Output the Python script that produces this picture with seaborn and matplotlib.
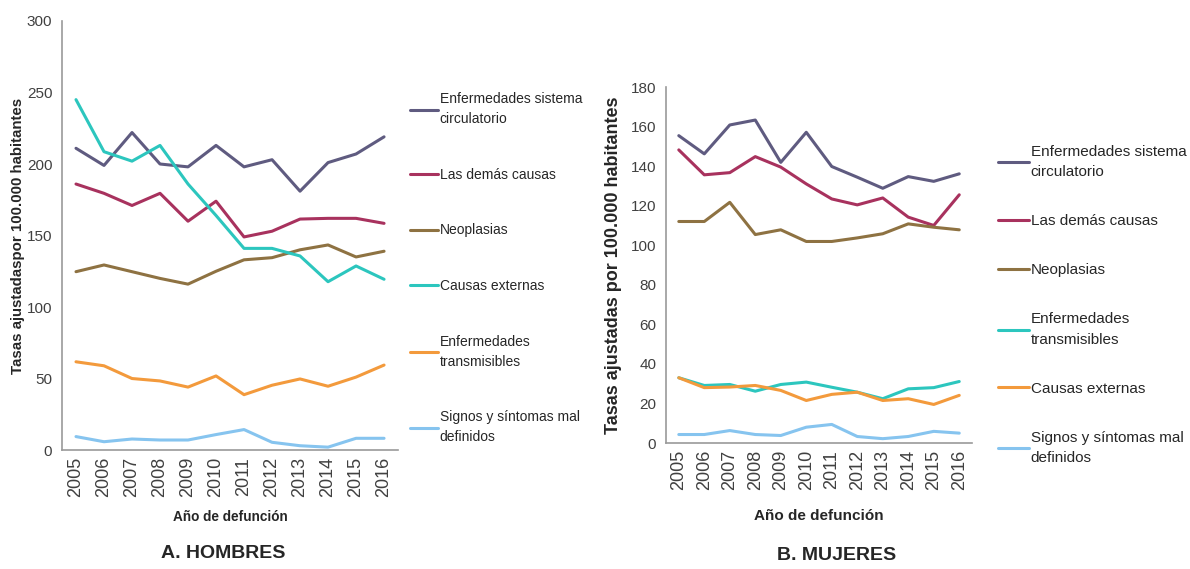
import pandas as pd
import matplotlib
matplotlib.use('Agg')
import matplotlib.pyplot as plt
from matplotlib.ticker import FixedLocator
import seaborn as sns

sns.set_style('white')
plt.rcParams['font.family'] = ['Liberation Sans Narrow', 'Liberation Sans', 'DejaVu Sans']

years = list(range(2005, 2017))

# HOMBRES
h_labels = ['Enfermedades sistema\ncirculatorio', 'Las demás causas', 'Neoplasias',
            'Causas externas', 'Enfermedades\ntransmisibles',
            'Signos y síntomas mal\ndefinidos']
h_circ = [211, 199, 222, 200, 198, 213, 198, 203, 181, 201, 207, 219]
h_demas = [186, 179.5, 171, 179.5, 160, 174, 149, 153, 161.5, 162, 162, 158.5]
h_neo = [124.7, 129.4, 124.7, 120, 116, 125, 133, 134.5, 140, 143.4, 135, 139]
h_ext = [245, 208.6, 202, 213, 186, 164, 141, 141, 135.7, 117.7, 128.7, 119.4]
h_trans = [61.7, 58.9, 50, 48.3, 44, 51.8, 38.7, 45.3, 49.7, 44.6, 51, 59.4]
h_signos = [9.4, 5.8, 7.7, 7, 7, 10.8, 14.3, 5.4, 3, 2, 8.2, 8.2]

# MUJERES
m_labels = ['Enfermedades sistema\ncirculatorio', 'Las demás causas', 'Neoplasias',
            'Enfermedades\ntransmisibles', 'Causas externas',
            'Signos y síntomas mal\ndefinidos']
m_circ = [155.4, 146.2, 160.8, 163.3, 141.9, 157.1, 139.8, 134.4, 128.8, 134.7, 132.3, 136.1]
m_demas = [148.2, 135.6, 136.7, 144.8, 139.5, 131, 123.4, 120.4, 123.9, 114.2, 110, 125.5]
m_neo = [112, 112, 121.7, 105.4, 107.8, 101.9, 101.9, 103.7, 105.8, 110.8, 109.1, 107.8]
m_trans = [33, 29.1, 29.6, 26.2, 29.6, 30.8, 28.2, 25.7, 22.4, 27.4, 28, 31.1]
m_ext = [33, 28, 28.3, 29.1, 26.6, 21.5, 24.6, 25.7, 21.5, 22.4, 19.5, 24.1]
m_signos = [4.3, 4.3, 6.3, 4.3, 3.8, 8, 9.4, 3.3, 2.2, 3.3, 5.9, 5]

colors = ['#5f5b80', '#a8325e', '#8e7242', '#2cc6be', '#f39a3c', '#86c4ef']


def long_df(labels, series):
    rows = []
    for lab, vals in zip(labels, series):
        for y, v in zip(years, vals):
            rows.append({'anio': y, 'tasa': v, 'causa': lab})
    return pd.DataFrame(rows)


hombres = long_df(h_labels, [h_circ, h_demas, h_neo, h_ext, h_trans, h_signos])
mujeres = long_df(m_labels, [m_circ, m_demas, m_neo, m_trans, m_ext, m_signos])

fig = plt.figure(figsize=(11.9, 5.69), dpi=100)
ax1 = fig.add_axes([0.0521, 0.2091, 0.2824, 0.754])
ax2 = fig.add_axes([0.5597, 0.2214, 0.2571, 0.6257])


def draw(ax, df, labels, ymax, ystep, ylabel, ylab_x, xlab_y, ylab_size, xlab_size,
         leg_anchor, leg_size, leg_space):
    sns.lineplot(data=df, x='anio', y='tasa', hue='causa', hue_order=labels,
                 palette=colors, estimator=None, linewidth=2.2, legend=False, ax=ax)
    ax.set_xlim(2004.5, 2016.5)
    ax.set_ylim(0, ymax)
    ax.set_yticks(range(0, ymax + 1, ystep))
    ax.set_xticks(years)
    ax.set_xticklabels([str(y) for y in years], rotation=90)
    ax.xaxis.set_minor_locator(FixedLocator([y + 0.5 for y in years]))
    ax.tick_params(axis='x', which='major', length=0, pad=5, labelsize=13, labelcolor='#404040')
    ax.tick_params(axis='x', which='minor', length=5, color='#9a9a9a', direction='out')
    ax.tick_params(axis='y', length=4, color='#9a9a9a', direction='out', labelsize=11,
                   labelcolor='#404040', pad=3)
    for s in ['top', 'right']:
        ax.spines[s].set_visible(False)
    for s in ['left', 'bottom']:
        ax.spines[s].set_color('#9a9a9a')
        ax.spines[s].set_linewidth(1.2)
    ax.set_xlabel('Año de defunción', fontsize=xlab_size, fontweight='bold', color='#262626')
    ax.set_ylabel(ylabel, fontsize=ylab_size, fontweight='bold', color='#262626')
    ax.yaxis.set_label_coords(ylab_x, 0.5)
    ax.xaxis.set_label_coords(0.5, xlab_y)
    handles = ax.get_lines()[:len(labels)]
    leg = fig.legend(handles, labels, loc='upper left', bbox_to_anchor=leg_anchor, frameon=False,
                     fontsize=leg_size, handlelength=2.0, handletextpad=0.15,
                     labelspacing=leg_space, borderaxespad=0, borderpad=0,
                     labelcolor='#262626')
    for t in leg.get_texts():
        t.set_linespacing(1.55)


draw(ax1, hombres, h_labels, 300, 50, 'Tasas ajustadaspor 100.000 habitantes',
     -0.11, -0.14, 10.8, 9.8, (410 / 1190, 1 - 92 / 569), 10, 3.0)
draw(ax2, mujeres, m_labels, 180, 20, 'Tasas ajustadas por 100.000 habitantes',
     -0.145, -0.185, 13, 11, (998 / 1190, 1 - 145 / 569), 11, 2.3)

fig.text(223 / 1190, 1 - 553 / 569, 'A. HOMBRES', ha='center', va='center',
         fontsize=14, fontweight='bold', color='#262626')
fig.text(837 / 1190, 1 - 555 / 569, 'B. MUJERES', ha='center', va='center',
         fontsize=14, fontweight='bold', color='#262626')

plt.savefig('out.png', dpi=100)
